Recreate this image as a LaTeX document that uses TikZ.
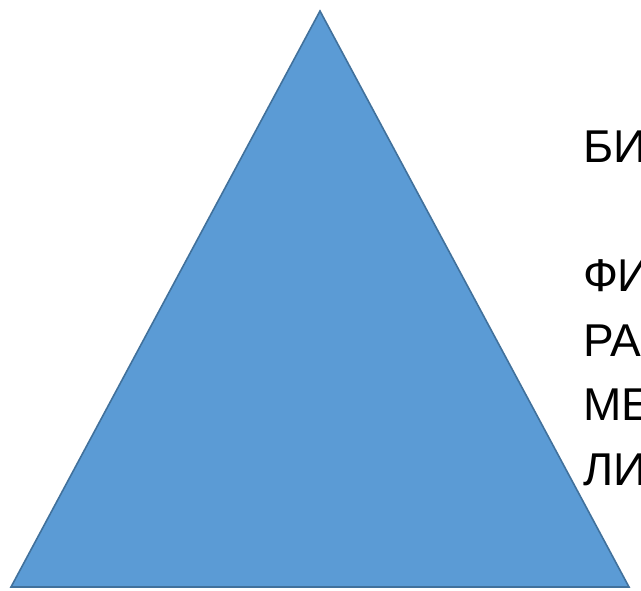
\documentclass[tikz,border=0pt]{standalone}
\usepackage{fontspec}
\setmainfont{Liberation Sans}
\definecolor{trifill}{HTML}{5B9BD5}
\definecolor{tridraw}{HTML}{41719C}
\tikzset{
  tri/.style={fill=trifill,draw=tridraw,line width=1.6pt,line join=miter},
  lbl/.style={anchor=base west,inner sep=0pt,outer sep=0pt,font=\fontsize{46pt}{64pt}\selectfont,text=black}
}
\begin{document}
\begin{tikzpicture}[x=1pt,y=-1pt]
\useasboundingbox (0,0) rectangle (641,591);
\clip (0,0) rectangle (641,591);
\coordinate (apex) at (320,11);
\coordinate (bl) at (11,587);
\coordinate (br) at (629,587);
\filldraw[tri] (apex) -- (br) -- (bl) -- cycle;
\node[lbl] (t1) at (583,163) {БИ};
\node[lbl] (t2) at (583,291.8) {ФИ};
\node[lbl] (t3) at (583,356.2) {РА};
\node[lbl] (t4) at (583,420.6) {МЕ};
\node[lbl] (t5) at (583,485) {ЛИ};
\end{tikzpicture}
\end{document}
